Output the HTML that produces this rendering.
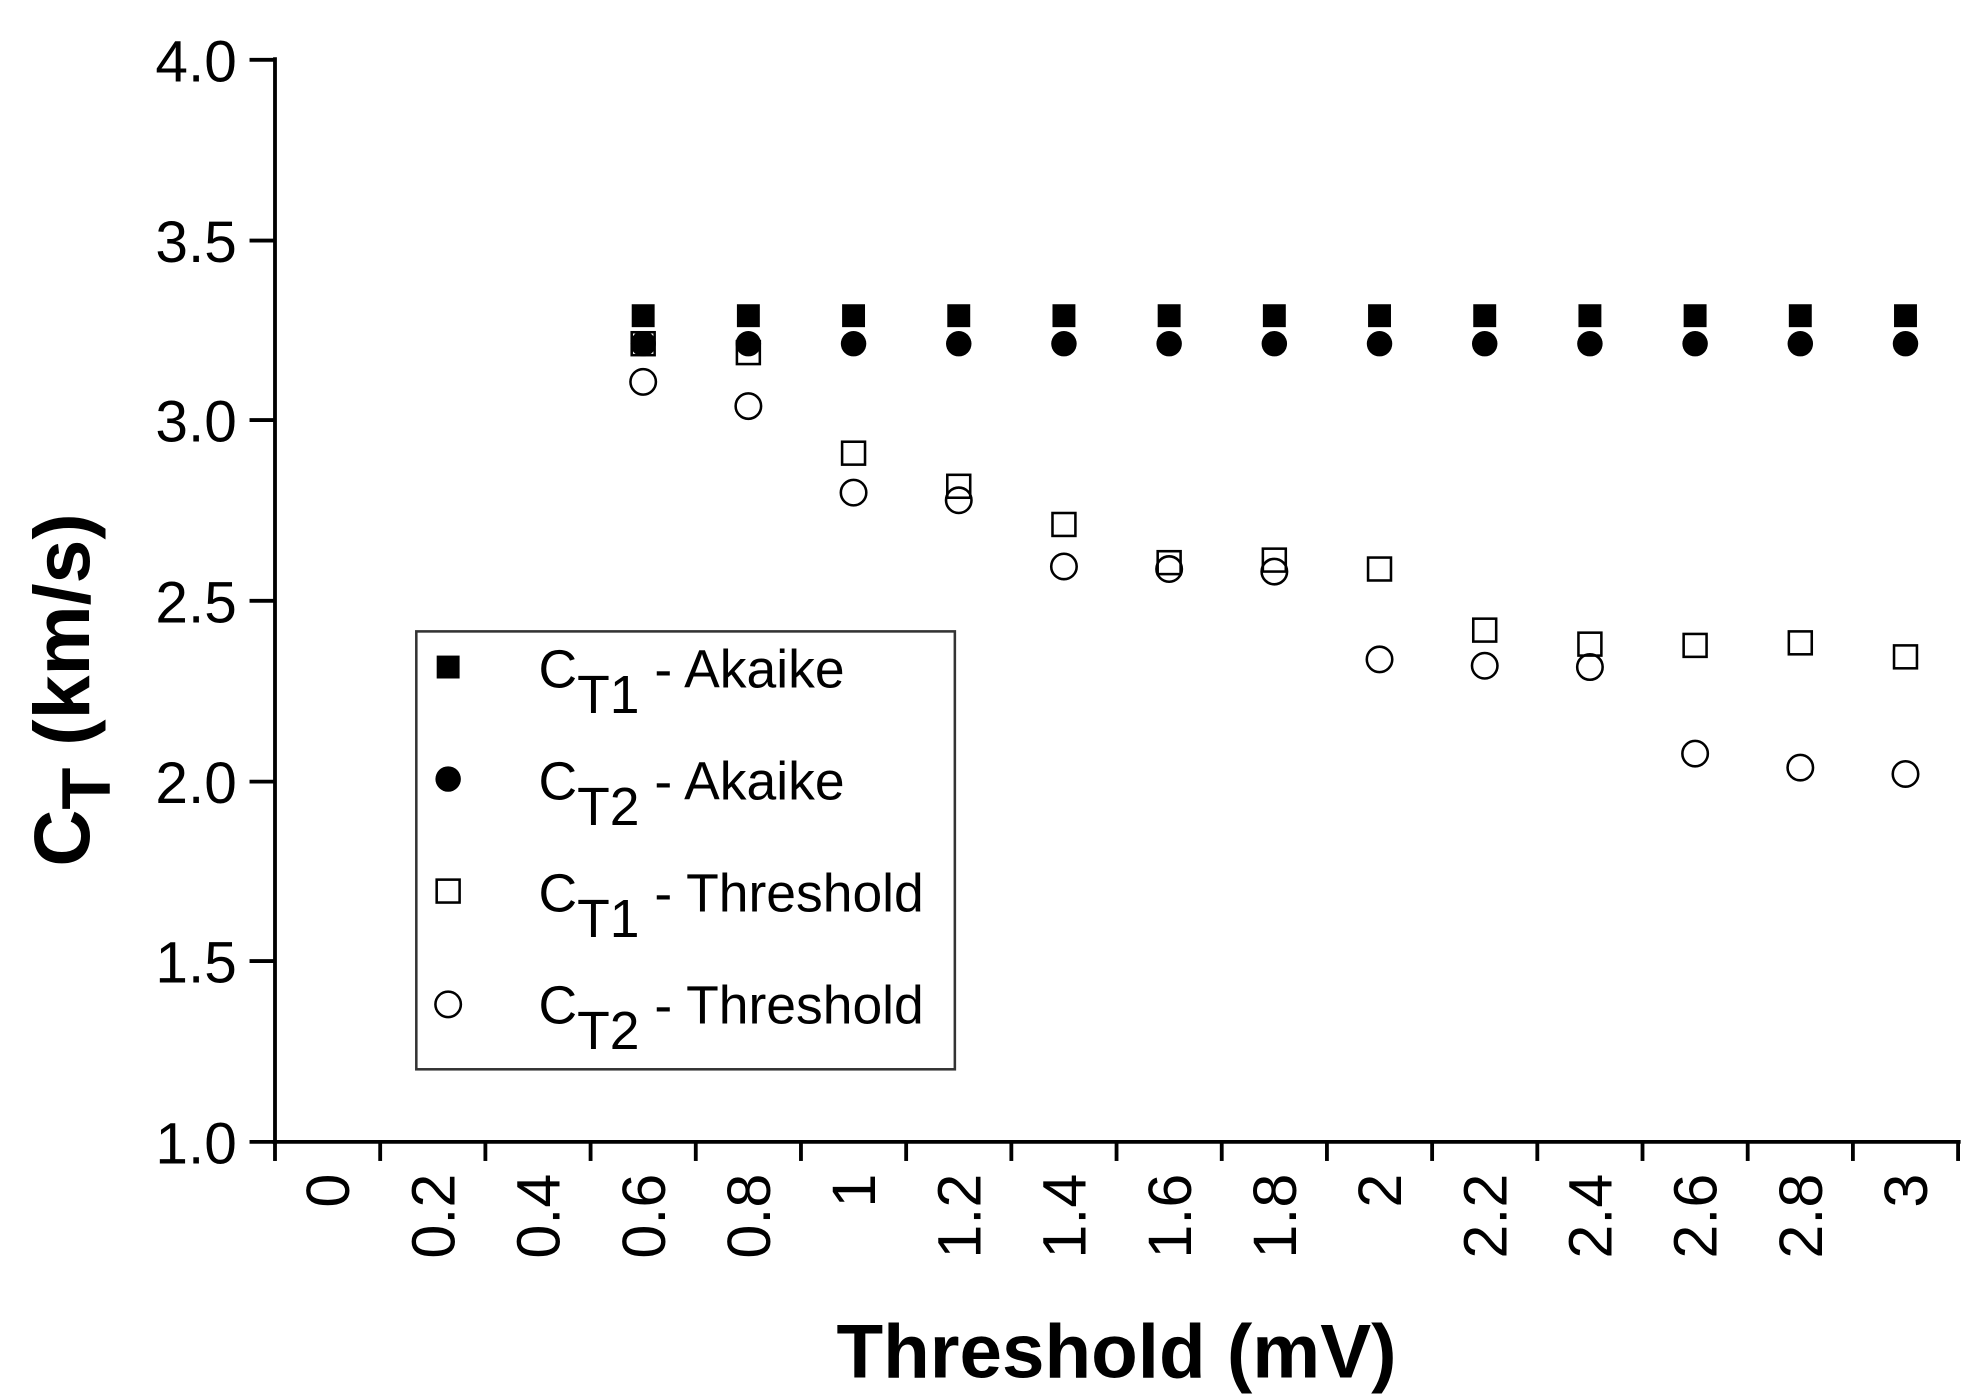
<!DOCTYPE html>
<html><head><meta charset="utf-8"><style>
html,body{margin:0;padding:0;background:#fff;}
svg{display:block;}
text{font-family:"Liberation Sans",sans-serif;fill:#000;}
</style></head><body>
<svg width="1967" height="1399" viewBox="0 0 1545 1099" preserveAspectRatio="none" xmlns="http://www.w3.org/2000/svg">
<g stroke="#000" stroke-width="3" fill="none">
<line x1="216" y1="45" x2="216" y2="899"/>
<line x1="214" y1="897" x2="1540" y2="897"/>
<line x1="196" y1="47" x2="216" y2="47"/>
<line x1="196" y1="189" x2="216" y2="189"/>
<line x1="196" y1="330" x2="216" y2="330"/>
<line x1="196" y1="472" x2="216" y2="472"/>
<line x1="196" y1="614" x2="216" y2="614"/>
<line x1="196" y1="755" x2="216" y2="755"/>
<line x1="196" y1="897" x2="216" y2="897"/>
</g>
<g stroke="#000" stroke-width="3" id="xt"></g>
<g font-size="46" text-anchor="end">
<text x="186" y="64">4.0</text>
<text x="186" y="206">3.5</text>
<text x="186" y="347">3.0</text>
<text x="186" y="489">2.5</text>
<text x="186" y="631">2.0</text>
<text x="186" y="772">1.5</text>
<text x="186" y="914">1.0</text>
</g>
<g id="xl" font-size="48" text-anchor="end"></g>
<text x="877" y="1082" font-size="60" font-weight="bold" text-anchor="middle">Threshold (mV)</text>
<text transform="translate(70,542) rotate(-90)" font-size="62" font-weight="bold" text-anchor="middle">C<tspan dy="16" font-size="54">T</tspan><tspan dy="-16"> (km/s)</tspan></text>
<g id="pts"></g>
<rect x="327" y="496" width="423" height="344" fill="#fff" stroke="#333" stroke-width="2"/>
<rect x="343" y="515" width="18" height="18" fill="#000"/>
<circle cx="352" cy="612" r="10" fill="#000"/>
<rect x="343" y="691" width="18" height="18" fill="#fff" stroke="#000" stroke-width="2"/>
<circle cx="352" cy="789" r="10" fill="#fff" stroke="#000" stroke-width="2"/>
<g font-size="42">
<text x="423" y="540">C<tspan dy="20">T1</tspan><tspan dy="-20"> - Akaike</tspan></text>
<text x="423" y="628">C<tspan dy="20">T2</tspan><tspan dy="-20"> - Akaike</tspan></text>
<text x="423" y="716">C<tspan dy="20">T1</tspan><tspan dy="-20"> - Threshold</tspan></text>
<text x="423" y="804">C<tspan dy="20">T2</tspan><tspan dy="-20"> - Threshold</tspan></text>
</g>
<script>
var ns="http://www.w3.org/2000/svg";
function el(t,a,p){var e=document.createElementNS(ns,t);for(var k in a)e.setAttribute(k,a[k]);if(p)p.appendChild(e);return e;}
var xt=document.getElementById('xt'),xl=document.getElementById('xl'),pts=document.getElementById('pts');
var w=(1538-216)/16;
for(var i=0;i<=16;i++){var x=216+i*w;el('line',{x1:x,y1:897,x2:x,y2:912},xt);}
var labs=['0','0.2','0.4','0.6','0.8','1','1.2','1.4','1.6','1.8','2','2.2','2.4','2.6','2.8','3'];
for(var i=0;i<16;i++){var cx=216+(i+0.5)*w;var t=el('text',{transform:'translate('+(cx+17)+',922) rotate(-90)'},xl);t.textContent=labs[i];}
var sq=[270,277,356,382,412,442,440,447,495,506,507,505,516];
var ci=[300,319,387,393,445,447,449,518,523,524,592,603,608];
for(var j=0;j<13;j++){var cx=216+(j+3.5)*w;
el('rect',{x:cx-9,y:239,width:18,height:18,fill:'#000'},pts);
el('circle',{cx:cx,cy:270,r:10,fill:'#000'},pts);
el('rect',{x:cx-9,y:sq[j]-9,width:18,height:18,fill:'none',stroke:'#000','stroke-width':2},pts);
el('circle',{cx:cx,cy:ci[j],r:10,fill:'none',stroke:'#000','stroke-width':2},pts);}
</script>
</svg>
</body></html>
